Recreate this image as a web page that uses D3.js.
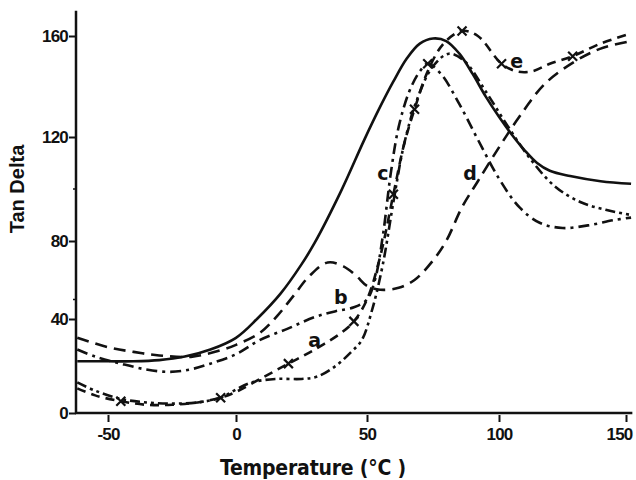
<!DOCTYPE html>
<html>
<head>
<meta charset="utf-8">
<script src="https://cdn.jsdelivr.net/npm/d3@7"></script>
<style>
  html, body { margin: 0; padding: 0; background: #fff; }
  svg { display: block; }
  .tick text { font-family: "Liberation Sans", Arial, sans-serif; font-weight: bold; font-size: 17px; letter-spacing: -0.8px; fill: #111; }
  .tick line { stroke: #111; stroke-width: 2; }
</style>
</head>
<body>
<svg id="chart" width="636" height="480"></svg>
<script>
// Tan delta versus temperature for five samples (a–e) plus a reference curve.
const xTicks = [-50, 0, 50, 100, 150];
const yTicks = [0, 40, 80, 120, 160];
const yMinorTicks = [100, 50];

// [temperature °C, tan delta]
const solidCurve = [[-62,22],[-50,22],[-40,22],[-30,22.5],[-20,24],[-10,27],[0,32],[8,40],[17,53],[25,68],[30,79],[40,99],[49,119],[55,132],[60,142],[65,151],[70,157],[75,159],[80,158],[85,153],[90,145],[95,136],[100,128],[105,121],[110,115],[115,110],[120,107],[128,105],[140,103],[152,102]];
const curveB = [[-62,27],[-55,24],[-45,21],[-35,18.5],[-26,17.5],[-18,18.5],[-10,21],[0,25],[9,31],[20,36],[30,41],[38,44],[45,46],[50,50],[53,60],[56,82],[59,106],[62,124],[66,138],[70,146],[73,149],[78,145],[85,133],[92,119],[100,104],[108,93],[116,87],[125,85],[135,86],[145,88],[152,89]];
const curveC = [[-62,13],[-55,9.5],[-45,6],[-35,4.5],[-25,4],[-15,4.5],[-6,6.5],[0,10],[6,13],[15,14.5],[25,14.5],[31,15.5],[38,20],[44,26],[48,31],[52,45],[56,68],[60,95],[64,117],[69,135],[75,148],[81,153],[87,150],[95,138],[103,125],[112,112],[122,101],[132,95],[142,92],[152,90]];
const curveD = [[-62,32],[-50,28],[-40,26],[-30,24.5],[-17,24],[-5,27],[0,29],[9,34],[16,42],[22,52],[28,62],[35,69],[41,67],[46,62],[50,57],[55,55],[62,56],[68,60],[75,70],[80,80],[86,93],[92,103],[100,116],[108,128],[118,141],[130,150],[140,155],[152,158]];
const curveE = [[-62,10.5],[-55,7.5],[-45,5],[-35,3.5],[-25,3.5],[-15,4.5],[-6,6.5],[0,9],[10,15],[20,21],[30,27],[40,34],[45,39],[50,50],[55,72],[60,98],[64,117],[68,131],[73,146],[79,157],[86,162],[92,160],[101,149],[107,146],[113,146],[120,149],[129,152],[140,157],[152,161]];

// cross markers on the curves
const crossMarks = [[-45,5],[-6,6.5],[20,21],[45,39],[60,98],[68,131],[73,149],[86,162],[101,149],[129,152]];

// curve letters
const letterNames = ["a", "b", "c", "d", "e"];
const letterAt = [[30,31],[40,51],[56,106],[89,106],[107,150]];

const svg = d3.select("#chart");

const x = d3.scaleLinear().domain([-50, 0, 50, 100, 150]).range([108, 236, 367, 499, 626]);
const y = d3.scaleLinear().domain([0, 40, 80, 120, 160]).range([413, 319, 241, 137, 36]);

const xMin = -62.5, xMax = 152.5, yTop = 170;

// axis lines
svg.append("line")
  .attr("x1", x(xMin)).attr("x2", x(xMin))
  .attr("y1", y(0) + 1).attr("y2", y(yTop))
  .attr("stroke", "#111").attr("stroke-width", 2.5);
svg.append("line")
  .attr("x1", x(xMin) - 1).attr("x2", x(xMax))
  .attr("y1", y(0)).attr("y2", y(0))
  .attr("stroke", "#111").attr("stroke-width", 2.5);

// x axis ticks
const gx = svg.append("g")
  .attr("transform", `translate(0,${y(0) + 2})`)
  .call(d3.axisBottom(x).tickValues(xTicks).tickSize(7).tickPadding(5).tickFormat(d => String(d)));
gx.select(".domain").remove();
gx.selectAll(".tick text")
  .attr("dy", "0.75em")
  .attr("dx", d => d === 150 ? -7 : 0);

// y axis ticks
const gy = svg.append("g")
  .attr("transform", `translate(${x(xMin)},0)`)
  .call(d3.axisLeft(y).tickValues(yTicks).tickSize(7).tickPadding(1).tickFormat(d => String(d)));
gy.select(".domain").remove();

svg.append("g").selectAll("line").data(yMinorTicks).join("line")
  .attr("x1", x(xMin) - 3).attr("x2", x(xMin))
  .attr("y1", d => y(d)).attr("y2", d => y(d))
  .attr("stroke", "#111").attr("stroke-width", 1.5);

// axis titles
svg.append("text")
  .attr("transform", `translate(24,${(y(80) + y(120)) / 2}) rotate(-90)`)
  .attr("text-anchor", "middle")
  .attr("font-family", "'Liberation Sans Narrow', 'Liberation Sans', Arial, sans-serif")
  .attr("font-weight", "bold").attr("font-size", 20)
  .attr("fill", "#111")
  .text("Tan Delta");

svg.append("text")
  .attr("x", 313).attr("y", 475)
  .attr("text-anchor", "middle")
  .attr("font-family", "'DejaVu Sans Condensed', 'DejaVu Sans', sans-serif")
  .attr("font-weight", "bold").attr("font-size", 21)
  .attr("letter-spacing", "-0.2px")
  .attr("fill", "#111")
  .text("Temperature (°C )");

// curves
const line = d3.line()
  .x(d => x(d[0])).y(d => y(d[1]))
  .curve(d3.curveCatmullRom.alpha(0.5));

const series = [
  { data: solidCurve, dash: null },
  { data: curveB, dash: "11,5,3,5" },
  { data: curveC, dash: "10,4,3,4,3,4" },
  { data: curveD, dash: "12,7" },
  { data: curveE, dash: "9,6" }
];

svg.append("g").selectAll("path").data(series).join("path")
  .attr("d", d => line(d.data))
  .attr("fill", "none")
  .attr("stroke", "#111")
  .attr("stroke-width", 2.6)
  .attr("stroke-linecap", "butt")
  .attr("stroke-dasharray", d => d.dash);

// cross markers
const r = 4.5;
svg.append("g").selectAll("path").data(crossMarks).join("path")
  .attr("d", d => {
    const cx = x(d[0]), cy = y(d[1]);
    return `M${cx - r},${cy - r}L${cx + r},${cy + r}M${cx - r},${cy + r}L${cx + r},${cy - r}`;
  })
  .attr("stroke", "#111").attr("stroke-width", 2.2).attr("fill", "none");

// curve letters
svg.append("g").selectAll("text").data(letterNames).join("text")
  .attr("x", (d, i) => x(letterAt[i][0]))
  .attr("y", (d, i) => y(letterAt[i][1]))
  .attr("dy", "0.35em")
  .attr("text-anchor", "middle")
  .attr("font-family", "'DejaVu Sans', sans-serif")
  .attr("font-weight", "bold").attr("font-size", 19)
  .attr("fill", "#111")
  .text(d => d);
</script>
</body>
</html>
